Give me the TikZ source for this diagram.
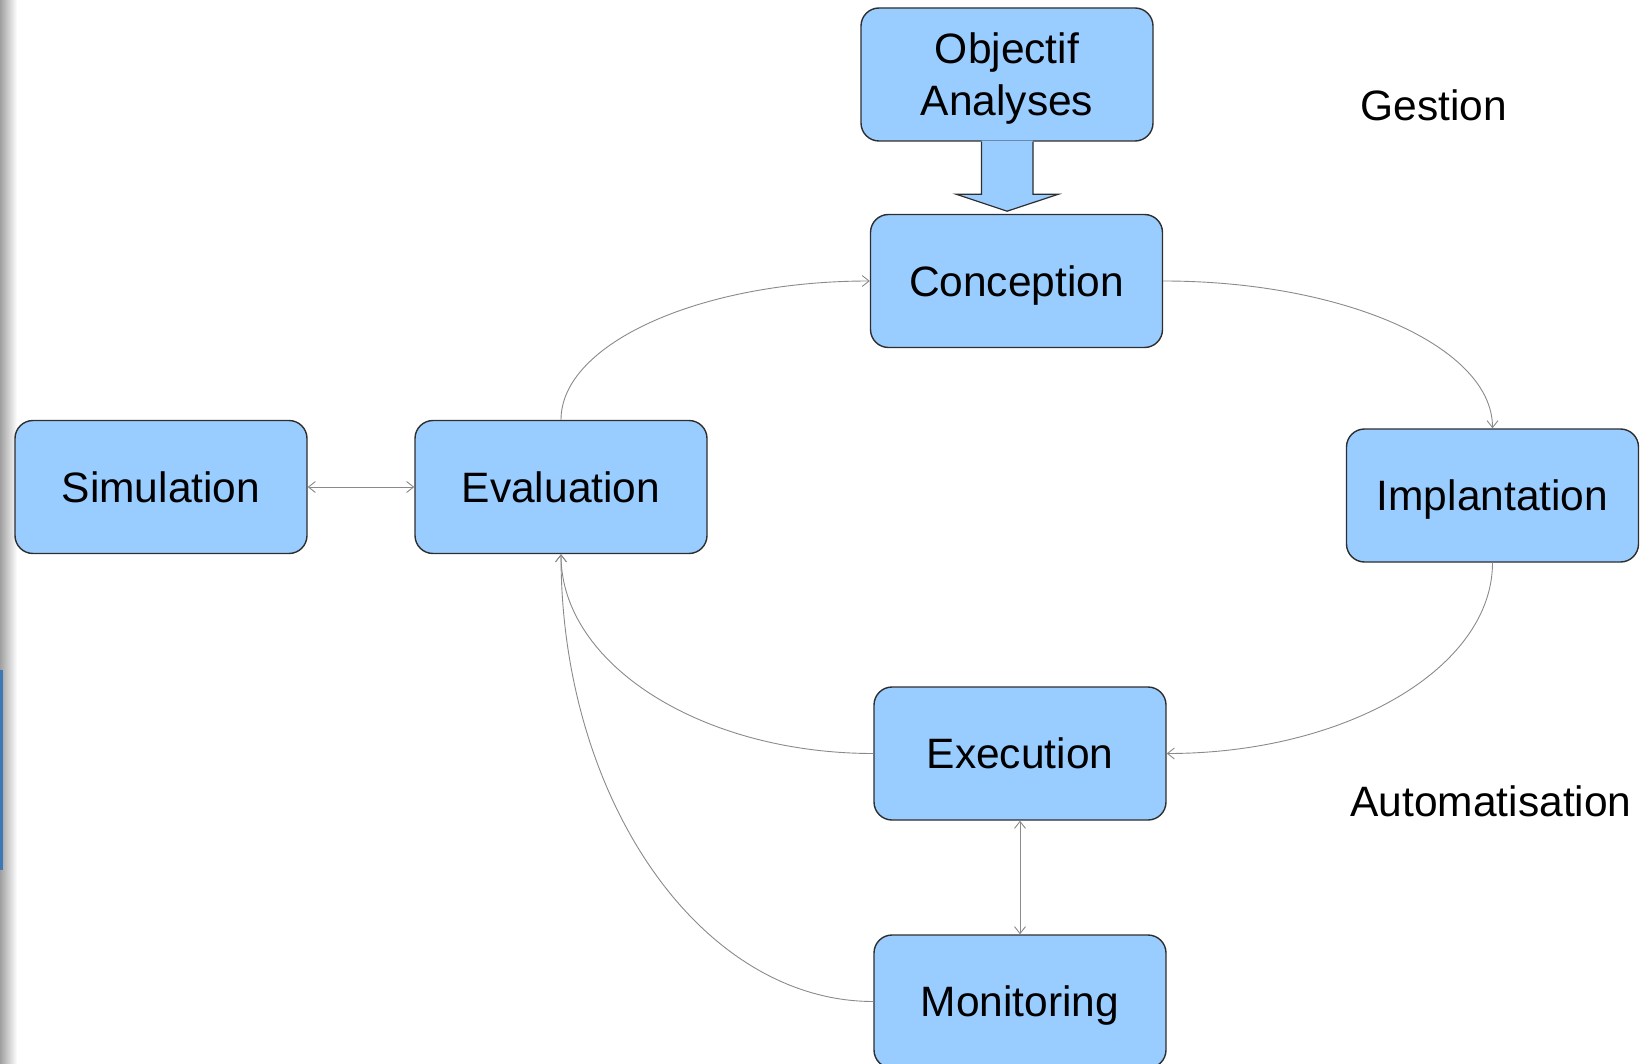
\documentclass[tikz,border=0pt]{standalone}
\usepackage{fontspec}
\setmainfont{Liberation Sans}
\usetikzlibrary{arrows.meta}
\definecolor{boxblue}{HTML}{99CCFF}
\definecolor{boxline}{HTML}{2E2E2E}
\definecolor{linkgray}{HTML}{8A8A8A}
\definecolor{edgeblue}{HTML}{3C78B4}
\begin{document}
\begin{tikzpicture}[x=1pt,y=-1pt,
  stage/.style={draw=boxline,line width=1.4pt,fill=boxblue,rounded corners=18pt,
    minimum width=292pt,minimum height=133pt,inner sep=0pt,align=center,
    font=\fontsize{42.5}{52}\selectfont},
  oneline/.style={stage,text height=39.5pt,text depth=8.9pt},
  label/.style={font=\fontsize{42.5}{52}\selectfont,inner sep=0pt},
  conn/.style={draw=linkgray,line width=0.9pt,-{Straight Barb[length=7pt,width=11pt]}},
  both/.style={conn,{Straight Barb[length=7pt,width=11pt]}-{Straight Barb[length=7pt,width=11pt]}}]
  \useasboundingbox (0,0) rectangle (1641,1064);
  \clip (0,0) rectangle (1641,1064);
  % shaded left margin
  \shade[left color=gray!75,right color=white] (0,0) rectangle (17,1064);
  \fill[edgeblue] (0,670) rectangle (2.5,870);

  % stages
  \node[stage,text depth=0pt] (obj) at (1007,74.5) {Objectif\\Analyses};
  \node[oneline] (conc) at (1016.5,281) {Conception};
  \node[oneline] (sim)  at (161,487)    {Simulation};
  \node[oneline] (eval) at (561,487)    {Evaluation};
  \node[oneline] (impl) at (1492.5,495.5) {Implantation};
  \node[oneline] (exec) at (1020,753.5) {Execution};
  \node[oneline] (mon)  at (1020,1001.5) {Monitoring};

  % side labels
  \node[label] (gest) at (1434,105) {Gestion};
  \node[label] (auto) at (1491,801) {Automatisation};

  % block arrow from the objectives down to the design stage
  \coordinate (bt) at (obj.south);
  \fill[boxblue] (bt) ++(-25.5,-1) -- ++(0,53.5) -- ++(-25.5,0) -- ++(51,17)
    -- ++(51.5,-17) -- ++(-25.5,0) -- ++(0,-53.5) -- cycle;
  \draw[boxline,line width=1.2pt,line join=miter] (bt) ++(-25.5,0) -- ++(0,52.5)
    -- ++(-25.5,0) -- ++(51,17) -- ++(51.5,-17) -- ++(-25.5,0) -- ++(0,-52.5);

  % cycle
  \draw[conn] (eval.north) .. controls +(0,-76) and +(-170,0) .. (conc.west);
  \draw[conn] (conc.east) .. controls +(182,0) and +(0,-81) .. (impl.north);
  \draw[conn] (impl.south) .. controls +(0,105) and +(180,0) .. (exec.east);
  \draw[conn] (exec.west) .. controls +(-172,0) and +(0,110) .. (eval.south);
  \draw[conn] (mon.west) .. controls +(-172,0) and +(0,246) .. (eval.south);
  \draw[both] (sim.east) -- (eval.west);
  \draw[both] (exec.south) -- (mon.north);
\end{tikzpicture}
\end{document}
